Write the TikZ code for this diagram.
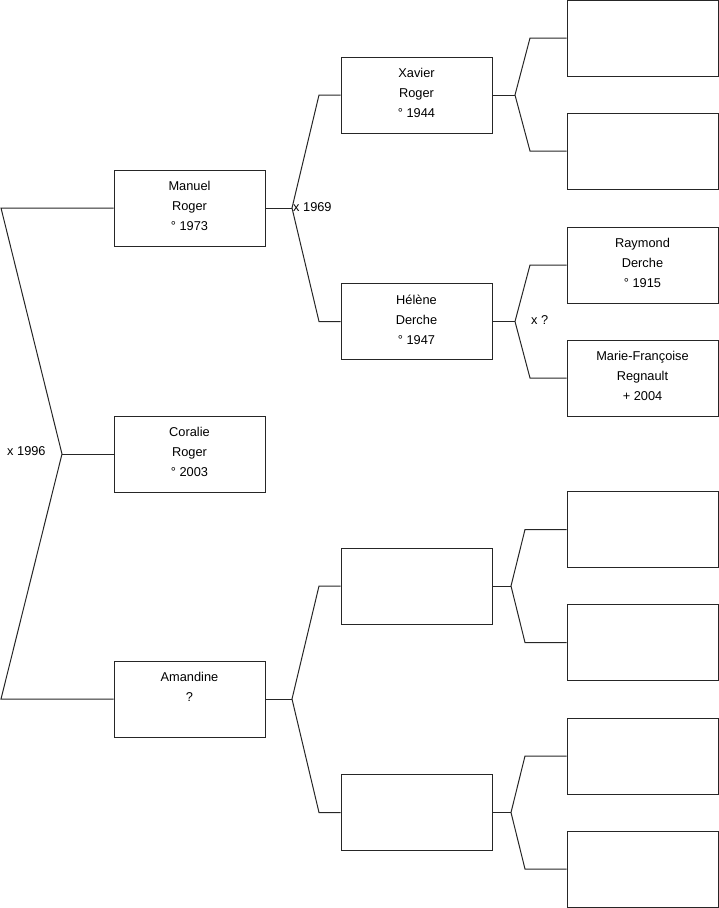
\documentclass[tikz,border=0pt]{standalone}
\usepackage{fontspec}
\setmainfont{Liberation Sans}
\begin{document}
\begin{tikzpicture}[x=1pt,y=-1pt,
  box/.style={draw=black!85,line width=1pt,minimum width=151pt,minimum height=76pt,inner sep=0pt,fill=white},
  txt/.style={anchor=north,inner sep=0pt,align=center,font=\fontsize{12.8}{20}\selectfont},
  lbl/.style={inner sep=0pt,font=\fontsize{12.8}{15}\selectfont},
  conn/.style={draw=black!85,line width=1pt}]
\useasboundingbox (0,0) rectangle (719,908);
% column 1
\node[box] (m) at (189.5,208) {};
\node[box] (c) at (189.5,454) {};
\node[box] (a) at (189.5,699) {};
% column 2
\node[box] (xr) at (416.5,95) {};
\node[box] (hd) at (416.5,321.5) {};
\node[box] (e1) at (416.5,586) {};
\node[box] (e2) at (416.5,812.5) {};
% column 3
\node[box] (g1) at (642.5,38) {};
\node[box] (g2) at (642.5,151) {};
\node[box] (g3) at (642.5,265) {};
\node[box] (g4) at (642.5,378) {};
\node[box] (g5) at (642.5,529.5) {};
\node[box] (g6) at (642.5,642.5) {};
\node[box] (g7) at (642.5,756) {};
\node[box] (g8) at (642.5,869) {};
% texts
\node[txt] (tm) at ([yshift=-11.5pt]m.north) {Manuel\\Roger\\° 1973};
\node[txt] (tc) at ([yshift=-11.5pt]c.north) {Coralie\\Roger\\° 2003};
\node[txt] (ta) at ([yshift=-11.5pt]a.north) {Amandine\\?};
\node[txt] (tx) at ([yshift=-11.5pt]xr.north) {Xavier\\Roger\\° 1944};
\node[txt] (th) at ([yshift=-11.5pt]hd.north) {Hélène\\Derche\\° 1947};
\node[txt] (t3) at ([yshift=-11.5pt]g3.north) {Raymond\\Derche\\° 1915};
\node[txt] (t4) at ([yshift=-11.5pt]g4.north) {Marie-Françoise\\Regnault\\+ 2004};
% fork coordinates
\coordinate (L1) at (1,208);
\coordinate (L2) at (62,454);
\coordinate (L3) at (1,699);
\coordinate (F1) at (292,208);
\coordinate (F1t) at (319,95);
\coordinate (F1b) at (319,321.5);
\coordinate (F2) at (292,699);
\coordinate (F2t) at (319,586);
\coordinate (F2b) at (319,812.5);
\coordinate (X) at (515,95);
\coordinate (Xt) at (530,38);
\coordinate (Xb) at (530,151);
\coordinate (H) at (515,321.5);
\coordinate (Ht) at (530,265);
\coordinate (Hb) at (530,378);
\coordinate (E1) at (511,586);
\coordinate (E1t) at (525,529.5);
\coordinate (E1b) at (525,642.5);
\coordinate (E2) at (511,812.5);
\coordinate (E2t) at (525,756);
\coordinate (E2b) at (525,869);
% connectors
\draw[conn] (m.west) -- (L1) -- (L2) -- (L3) -- (a.west);
\draw[conn] (L2) -- (c.west);
\draw[conn] (m.east) -- (F1);
\draw[conn] (xr.west) -- (F1t) -- (F1) -- (F1b) -- (hd.west);
\draw[conn] (a.east) -- (F2);
\draw[conn] (e1.west) -- (F2t) -- (F2) -- (F2b) -- (e2.west);
\draw[conn] (xr.east) -- (X);
\draw[conn] (g1.west) -- (Xt) -- (X) -- (Xb) -- (g2.west);
\draw[conn] (hd.east) -- (H);
\draw[conn] (g3.west) -- (Ht) -- (H) -- (Hb) -- (g4.west);
\draw[conn] (e1.east) -- (E1);
\draw[conn] (g5.west) -- (E1t) -- (E1) -- (E1b) -- (g6.west);
\draw[conn] (e2.east) -- (E2);
\draw[conn] (g7.west) -- (E2t) -- (E2) -- (E2b) -- (g8.west);
% marriage labels
\node[lbl,anchor=west] (l1) at (7,451) {x 1996};
\node[lbl,anchor=west] (l2) at (293,207) {x 1969};
\node[lbl,anchor=west] (l3) at (531,320) {x ?};
\end{tikzpicture}
\end{document}
